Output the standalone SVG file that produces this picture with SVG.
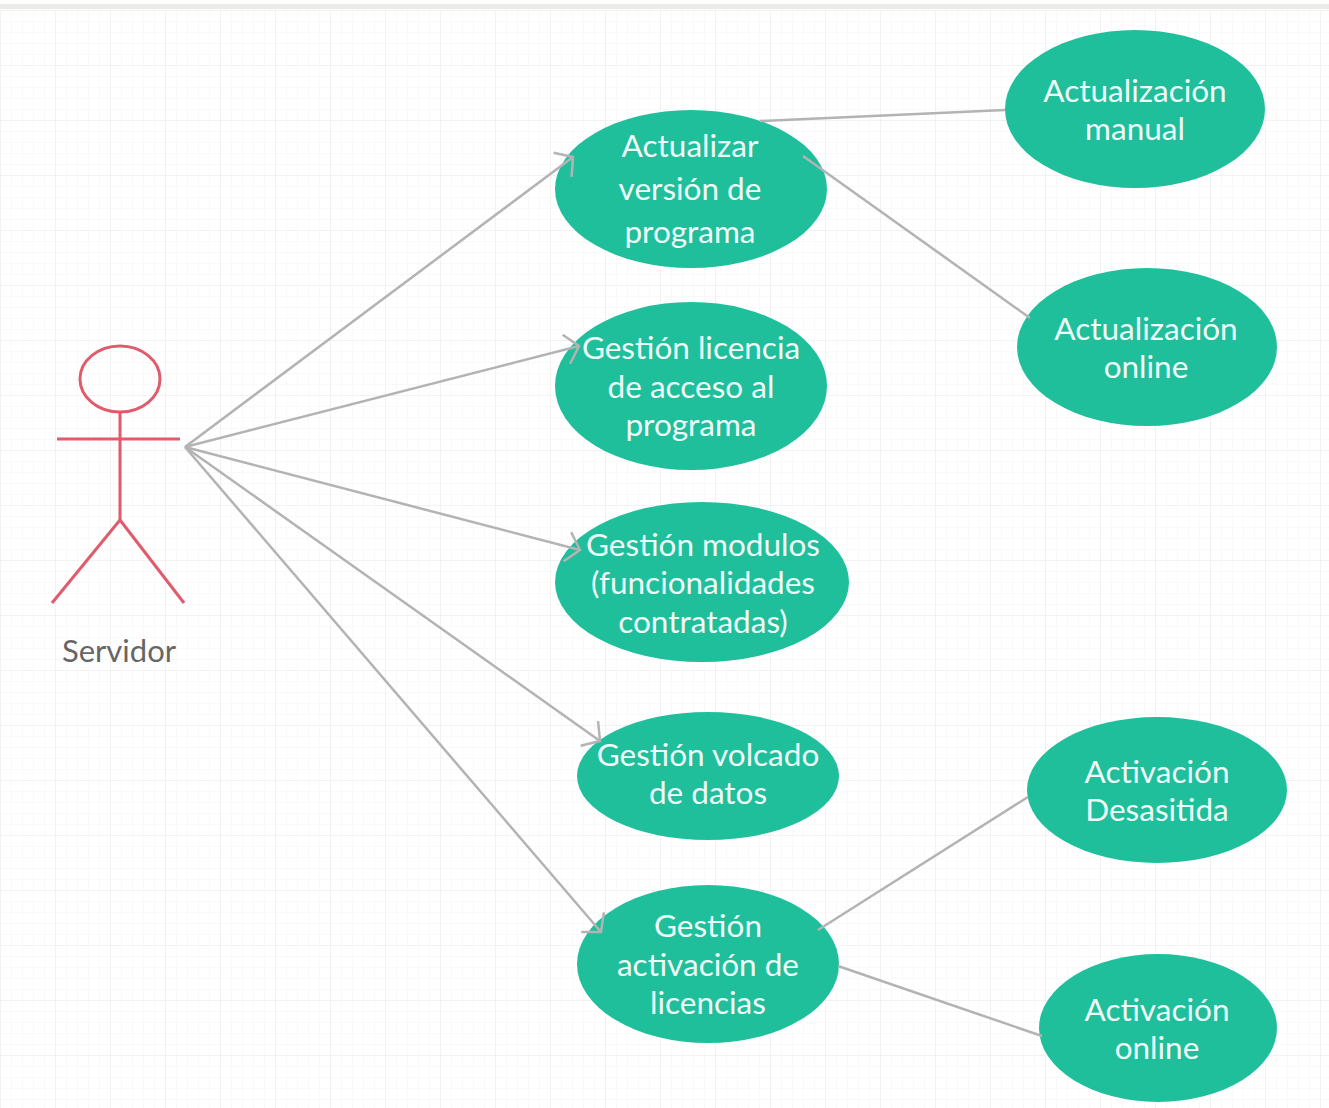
<svg xmlns="http://www.w3.org/2000/svg" width="1329" height="1108" viewBox="0 0 1329 1108">
  <defs>
    <pattern id="minor" width="11" height="11" patternUnits="userSpaceOnUse" x="0" y="10">
      <path d="M11,0 L0,0 L0,11" fill="none" stroke="#f3f3f3" stroke-width="1"/>
    </pattern>
    <pattern id="major" width="55" height="55" patternUnits="userSpaceOnUse" x="0" y="10">
      <path d="M55,0 L0,0 L0,55" fill="none" stroke="#ebebeb" stroke-width="1"/>
    </pattern>
    <marker id="arrow" markerUnits="userSpaceOnUse" markerWidth="40" markerHeight="40" refX="0" refY="0" viewBox="-20 -20 40 40" orient="auto" overflow="visible">
      <path d="M-13,-15 L0,0 L-13,15" fill="none" stroke="#b3b3b3" stroke-width="2.5"/>
    </marker>
    <style>
      .uc { fill: #1fbf9c; }
      .uct { font-family: Lato, "Liberation Sans", sans-serif; font-size: 31.5px; fill: #effcf7; text-anchor: middle; }
      .actor { fill: none; stroke: #e05b6b; stroke-width: 3; }
      .conn { stroke: #b3b3b3; stroke-width: 2.5; fill: none; }
    </style>
  </defs>

  <rect x="0" y="0" width="1329" height="1108" fill="#ffffff"/>
  <rect x="0" y="10" width="1329" height="1098" fill="url(#minor)"/>
  <rect x="0" y="10" width="1329" height="1098" fill="url(#major)"/>
  <rect x="0" y="4" width="1329" height="5" fill="#ecebe7"/>

  <g id="actor-servidor">
    <ellipse class="actor" cx="120" cy="379" rx="40" ry="33"/>
    <line class="actor" x1="120" y1="412" x2="120" y2="520"/>
    <line class="actor" x1="57" y1="439" x2="180" y2="439"/>
    <line class="actor" x1="120" y1="520" x2="52" y2="603"/>
    <line class="actor" x1="120" y1="520" x2="184" y2="603"/>
    <text x="119" y="662" font-family="Lato, 'Liberation Sans', sans-serif" font-size="31" fill="#666666" text-anchor="middle">Servidor</text>
  </g>

  <g id="uc-actualizar">
    <ellipse class="uc" cx="691" cy="189" rx="136" ry="79"/>
    <text class="uct" x="690" y="157">Actualizar</text>
    <text class="uct" x="690" y="200">versión de</text>
    <text class="uct" x="690" y="243">programa</text>
  </g>

  <g id="uc-licencia">
    <ellipse class="uc" cx="691" cy="386" rx="136" ry="84"/>
    <text class="uct" x="691" y="359">Gestión licencia</text>
    <text class="uct" x="691" y="398">de acceso al</text>
    <text class="uct" x="691" y="436">programa</text>
  </g>

  <g id="uc-modulos">
    <ellipse class="uc" cx="702" cy="582" rx="147" ry="80"/>
    <text class="uct" x="703" y="556">Gestión modulos</text>
    <text class="uct" x="703" y="594">(funcionalidades</text>
    <text class="uct" x="703" y="633">contratadas)</text>
  </g>

  <g id="uc-volcado">
    <ellipse class="uc" cx="708" cy="776" rx="131" ry="64"/>
    <text class="uct" x="708" y="766">Gestión volcado</text>
    <text class="uct" x="708" y="804">de datos</text>
  </g>

  <g id="uc-activacion">
    <ellipse class="uc" cx="708" cy="964" rx="131" ry="79"/>
    <text class="uct" x="708" y="937">Gestión</text>
    <text class="uct" x="708" y="976">activación de</text>
    <text class="uct" x="708" y="1014">licencias</text>
  </g>

  <g id="uc-act-manual">
    <ellipse class="uc" cx="1135" cy="109" rx="130" ry="79"/>
    <text class="uct" x="1135" y="102">Actualización</text>
    <text class="uct" x="1135" y="140">manual</text>
  </g>

  <g id="uc-act-online">
    <ellipse class="uc" cx="1147" cy="347" rx="130" ry="79"/>
    <text class="uct" x="1146" y="340">Actualización</text>
    <text class="uct" x="1146" y="378">online</text>
  </g>

  <g id="uc-activ-desasistida">
    <ellipse class="uc" cx="1157" cy="790" rx="130" ry="73"/>
    <text class="uct" x="1157" y="783">Activación</text>
    <text class="uct" x="1157" y="821">Desasitida</text>
  </g>

  <g id="uc-activ-online">
    <ellipse class="uc" cx="1158" cy="1028" rx="119" ry="74"/>
    <text class="uct" x="1157" y="1021">Activación</text>
    <text class="uct" x="1157" y="1059">online</text>
  </g>

  <g id="connectors">
    <line class="conn" x1="185" y1="447" x2="573" y2="157" marker-end="url(#arrow)"/>
    <line class="conn" x1="185" y1="447" x2="579" y2="346" marker-end="url(#arrow)"/>
    <line class="conn" x1="185" y1="447" x2="580" y2="550" marker-end="url(#arrow)"/>
    <line class="conn" x1="185" y1="447" x2="600" y2="741" marker-end="url(#arrow)"/>
    <line class="conn" x1="185" y1="447" x2="601" y2="932" marker-end="url(#arrow)"/>
    <line class="conn" x1="760" y1="121" x2="1005" y2="110"/>
    <line class="conn" x1="803" y1="156" x2="1030" y2="318"/>
    <line class="conn" x1="818" y1="930" x2="1028" y2="797"/>
    <line class="conn" x1="838" y1="966" x2="1042" y2="1036"/>
  </g>
</svg>
